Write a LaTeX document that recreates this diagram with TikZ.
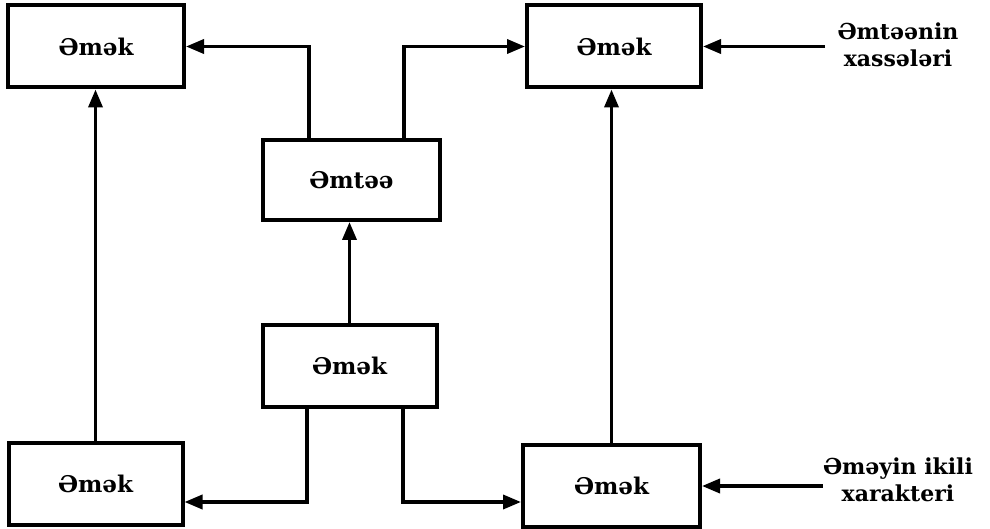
\documentclass[tikz,border=0pt]{standalone}
\usepackage{fontspec}
\setmainfont{DejaVu Serif}
\usetikzlibrary{arrows.meta,calc}
\tikzset{
  box/.style={draw,line width=2pt,minimum width=87pt,minimum height=41pt,inner sep=0pt,font=\bfseries\fontsize{11.5}{13}\selectfont},
  arr/.style={line width=1.8pt,-{Triangle[length=9pt,width=7pt]}},
  lbl/.style={align=center,inner sep=0pt,font=\bfseries\fontsize{11}{13.5}\selectfont}
}
\begin{document}
\begin{tikzpicture}[x=0.5pt,y=-0.5pt]
\useasboundingbox (0,0) rectangle (990,529);
\node[box,minimum width=88pt] (A) at (96,46.5) {Əmək};
\node[box] (B) at (614,46.5) {Əmək};
\node[box,minimum width=88.5pt,minimum height=40pt] (C) at (351.5,180) {Əmtəə};
\node[box] (D) at (349.5,365.5) {Əmək};
\node[box] (E) at (95.5,484) {Əmək};
\node[box,minimum width=88.5pt] (F) at (611.5,486) {Əmək};
\node[lbl] (L1) at (898,45) {Əmtəənin\\xassələri};
\node[lbl] (L2) at (898,480) {Əməyin ikili\\xarakteri};
\draw[arr] ($(C.north)+(-42.5,0)$) |- (A.east);
\draw[arr] ($(C.north)+(52.5,0)$) |- (B.west);
\draw[arr] (E.north) -- (E.north |- A.south);
\draw[arr] (D.north) -- (D.north |- C.south);
\draw[arr] ($(D.south)+(-42.5,0)$) |- ($(E.east)+(0,18)$);
\draw[arr] ($(D.south)+(53.5,0)$) |- ($(F.west)+(0,16)$);
\draw[arr] (F.north) -- (F.north |- B.south);
\draw[arr] ($(L1.west |- B.east)+(-12,0)$) -- (B.east);
\draw[arr] (L2.west |- F.east) -- (F.east);
\end{tikzpicture}
\end{document}
